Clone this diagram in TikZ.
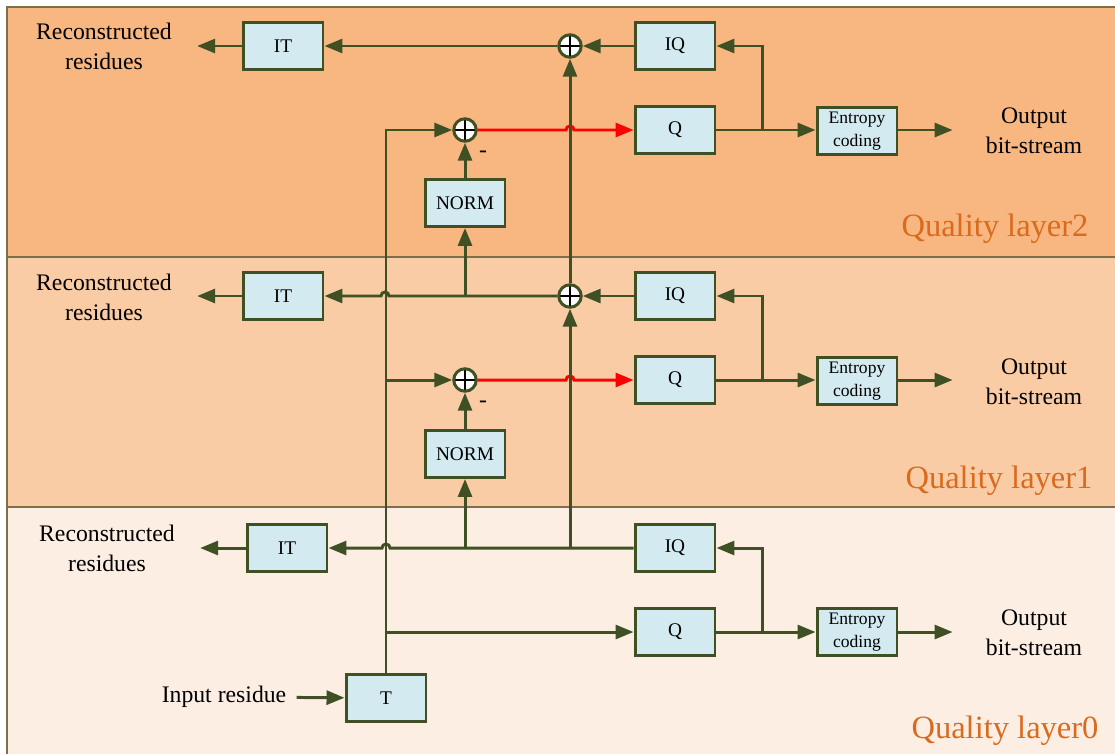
\documentclass[tikz,border=0pt]{standalone}
\usepackage{fontspec}
\setmainfont{Liberation Serif}
\usetikzlibrary{arrows.meta,positioning}
\definecolor{wire}{RGB}{62,80,36}
\definecolor{boxfill}{RGB}{210,234,240}
\definecolor{layertwo}{RGB}{248,182,128}
\definecolor{layerone}{RGB}{250,204,166}
\definecolor{layerzero}{RGB}{253,238,227}
\definecolor{layertxt}{RGB}{218,106,30}
\definecolor{bandline}{RGB}{125,112,72}

\begin{document}
\begin{tikzpicture}[x=0.02cm,y=-0.02cm,
  blk/.style={draw=wire,fill=boxfill,line width=1.7pt,minimum width=1.6cm,minimum height=0.94cm,inner sep=0pt,font=\fontsize{11}{12}\selectfont},
  ebk/.style={blk,align=center,font=\fontsize{10}{13}\selectfont},
  sum/.style={circle,draw=wire,fill=white,line width=1.7pt,minimum size=0.45cm,inner sep=0pt,
    path picture={\draw[black,line width=0.6pt] (path picture bounding box.north) -- (path picture bounding box.south)
      (path picture bounding box.west) -- (path picture bounding box.east);}},
  txt/.style={align=center,inner sep=0pt,font=\fontsize{13.5}{17}\selectfont},
  lay/.style={inner sep=0pt,text=layertxt,font=\fontsize{18.5}{20}\selectfont},
  arr/.style={-{Triangle[length=3.6mm,width=2.8mm]},draw=wire,line width=1.7pt},
  red/.style={arr,draw=red,-{Triangle[length=3.6mm,width=2.8mm,fill=red]}},
  bnd/.style={draw=bandline,line width=0.6pt}]
  \useasboundingbox (0,0) rectangle (1115,754);
  \fill[layertwo] (7,7) rectangle (1115,257);
  \fill[layerone] (7,257) rectangle (1115,507);
  \fill[layerzero] (7,507) rectangle (1115,754);
  \draw[bnd] (1115,7) -- (7,7) -- (7,754); \draw[bnd] (7,257) -- (1115,257); \draw[bnd] (7,507) -- (1115,507);

  \node[blk] (it2) at (283,46) {IT};
  \node[sum] (sa2) at (570,46) {};
  \node[blk] (iq2) at (675,46) {IQ};
  \node[blk] (q2) at (675,130) {Q};
  \node[ebk] (ec2) at (857,131) {Entropy\\coding};
  \node[sum] (sb2) at (465,130) {};
  \node[blk] (nm2) at (465,203) {NORM};
  \node[txt] (rec2) at (104,46) {Reconstructed\\residues};
  \node[txt] (out2) at (1034,131) {Output\\bit-stream};
  \node[txt] (mn2) at (483,154) {-};
  \node[lay] (ly2) at (995,229) {Quality layer2};
  \coordinate (j2) at (762,130);

  \node[blk] (it1) at (283,296) {IT};
  \node[sum] (sa1) at (570,296) {};
  \node[blk] (iq1) at (675,296) {IQ};
  \node[blk] (q1) at (675,380) {Q};
  \node[ebk] (ec1) at (857,381) {Entropy\\coding};
  \node[sum] (sb1) at (465,380) {};
  \node[blk] (nm1) at (465,454) {NORM};
  \node[txt] (rec1) at (104,297) {Reconstructed\\residues};
  \node[txt] (out1) at (1034,382) {Output\\bit-stream};
  \node[txt] (mn1) at (483,404) {-};
  \node[lay] (ly1) at (999,481) {Quality layer1};
  \coordinate (j1) at (762,380);

  \node[blk] (it0) at (287,548) {IT};
  \node[blk] (iq0) at (675,548) {IQ};
  \node[blk] (q0) at (675,632) {Q};
  \node[ebk] (ec0) at (857,632) {Entropy\\coding};
  \node[blk] (t) at (386,698) {T};
  \node[txt] (rec0) at (107,548) {Reconstructed\\residues};
  \node[txt] (out0) at (1034,633) {Output\\bit-stream};
  \node[txt] (inp) at (224,697) {Input residue};
  \node[lay] (ly0) at (1005,731) {Quality layer0};
  \coordinate (j0) at (762,632);

  \draw[arr] (iq2) -- (sa2); \draw[arr] (sa2) -- (it2); \draw[arr,shorten >=0.5cm] (it2) -- (rec2.east |- it2);
  \draw[red] (sb2) -- (566,130) arc (180:0:0.08cm) -- (q2);
  \draw[arr] (nm2) -- (sb2); \draw[arr] (q2) -- (ec2.west |- q2); \draw[arr] (j2) |- (iq2);
  \draw[arr,shorten >=0.66cm] (ec2.east |- q2) -- (out2.west |- q2);

  \draw[arr] (iq1) -- (sa1); \draw[arr] (sa1) -- (389,296) arc (0:180:0.08cm) -- (it1);
  \draw[arr,shorten >=0.5cm] (it1) -- (rec1.east |- it1);
  \draw[arr] (sa1 -| nm2) -- (nm2); \draw[arr] (sa1) -- (sa2);
  \draw[red] (sb1) -- (566,380) arc (180:0:0.08cm) -- (q1);
  \draw[arr] (nm1) -- (sb1); \draw[arr] (q1) -- (ec1.west |- q1); \draw[arr] (j1) |- (iq1);
  \draw[arr,shorten >=0.66cm] (ec1.east |- q1) -- (out1.west |- q1);

  \draw[arr] (iq0) -- (390,548) arc (0:180:0.08cm) -- (it0);
  \draw[arr,shorten >=0.5cm] (it0) -- (rec0.east |- it0);
  \draw[arr] (iq0 -| nm1) -- (nm1); \draw[arr] (iq0 -| sa1) -- (sa1);
  \draw[arr] (q0) -- (ec0.west |- q0); \draw[arr] (j0) |- (iq0);
  \draw[arr,shorten >=0.66cm] (ec0.east |- q0) -- (out0.west |- q0);

  \draw[arr] (t.north) |- (sb2); \draw[arr] (t.north |- sb1) -- (sb1); \draw[arr] (t.north |- q0) -- (q0);
  \draw[arr,shorten <=0.2cm] (inp) -- (t);
\end{tikzpicture}
\end{document}
